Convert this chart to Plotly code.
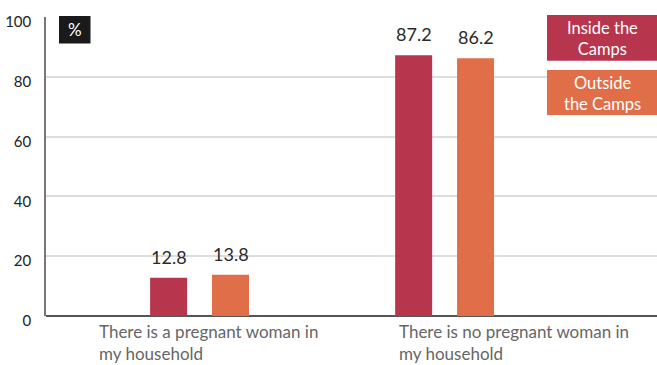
import plotly.graph_objects as go

categories = ["There is a pregnant woman in my household",
              "There is no pregnant woman in my household"]
category_labels = ["There is a pregnant woman in<br>my household",
                   "There is no pregnant woman in<br>my household"]
inside_camps = [12.8, 87.2]
outside_camps = [13.8, 86.2]
series_labels = ["Inside the<br>Camps", "Outside<br>the Camps"]
y_ticks = [0, 20, 40, 60, 80, 100]

RED = "#B8354E"
ORANGE = "#E06E48"
FONT = "Lato, 'Open Sans', sans-serif"

W, H = 657, 365
ML, MR, MT, MB = 46, 0, 17, 49
PW = W - ML - MR
PH = H - MT - MB


def px_x(px):
    return (px - ML) / PW


def px_y(py):
    return 1 - (py - MT) / PH


bar_w = 0.151
offsets = [-0.2016, 0.051]
fig = go.Figure()
fig.add_trace(go.Bar(x=categories, y=inside_camps, name="Inside the Camps",
                     marker=dict(color=RED, line=dict(width=0)),
                     width=bar_w, offset=offsets[0], showlegend=False, hoverinfo="skip"))
fig.add_trace(go.Bar(x=categories, y=outside_camps, name="Outside the Camps",
                     marker=dict(color=ORANGE, line=dict(width=0)),
                     width=bar_w, offset=offsets[1], showlegend=False, hoverinfo="skip"))

annotations = []
shapes = []
# value labels
for i, (a, b) in enumerate(zip(inside_camps, outside_camps)):
    for val, off in ((a, offsets[0]), (b, offsets[1])):
        annotations.append(dict(x=i + off + bar_w / 2, y=val, xref="x", yref="y",
                                text=f"{val}", showarrow=False, yanchor="middle",
                                yshift=21, font=dict(size=18, color="#2a2a2a", family=FONT)))
# category labels
label_px = [97, 397]
for px, lab in zip(label_px, category_labels):
    annotations.append(dict(x=px_x(px), y=px_y(342), xref="paper", yref="paper",
                            text=lab, showarrow=False, xanchor="left", yanchor="middle",
                            align="left",
                            font=dict(size=17, color="#666666", family=FONT)))
# % box
shapes.append(dict(type="rect", xref="paper", yref="paper", x0=px_x(59), x1=px_x(90.5),
                   y0=px_y(43.5), y1=px_y(16), fillcolor="#1a1a1a", line=dict(width=0)))
annotations.append(dict(x=px_x(75), y=px_y(30), xref="paper", yref="paper",
                        text="%", showarrow=False, xanchor="center", yanchor="middle",
                        font=dict(size=17, color="white", family=FONT)))
# legend boxes
boxes = [(RED, 15, 60.7), (ORANGE, 70, 115)]
for (col, top, bot), lab in zip(boxes, series_labels):
    shapes.append(dict(type="rect", xref="paper", yref="paper", x0=px_x(547), x1=1,
                       y0=px_y(bot), y1=px_y(top), fillcolor=col, line=dict(width=0)))
    annotations.append(dict(x=px_x(602), y=px_y((top + bot) / 2 + 0.5), xref="paper", yref="paper",
                            text=lab, showarrow=False, xanchor="center", yanchor="middle",
                            align="center",
                            font=dict(size=16.5, color="white", family=FONT)))

fig.update_layout(
    width=W, height=H,
    margin=dict(l=ML, r=MR, t=MT, b=MB, pad=0, autoexpand=False),
    plot_bgcolor="white", paper_bgcolor="white",
    font=dict(family=FONT),
    annotations=annotations,
    shapes=shapes,
    hovermode=False,
    xaxis=dict(type="category", range=[-0.6265, 1.867], showticklabels=False,
               showgrid=False, zeroline=False, showline=False, ticks="", automargin=False),
    yaxis=dict(range=[0, 100], tickvals=y_ticks, showgrid=True, gridcolor="#dddddd",
               gridwidth=1.5, zeroline=True, zerolinecolor="#555555", zerolinewidth=2,
               showline=True, linecolor="#777777", linewidth=1.5, ticks="",
               ticklabelstandoff=10, ticklabelshift=5, automargin=False,
               tickfont=dict(size=15, color="#222222", family=FONT)),
)

fig.write_html("out.html", config={"displayModeBar": False},
               post_script="document.body.style.margin='0';document.body.style.overflow='hidden';")
